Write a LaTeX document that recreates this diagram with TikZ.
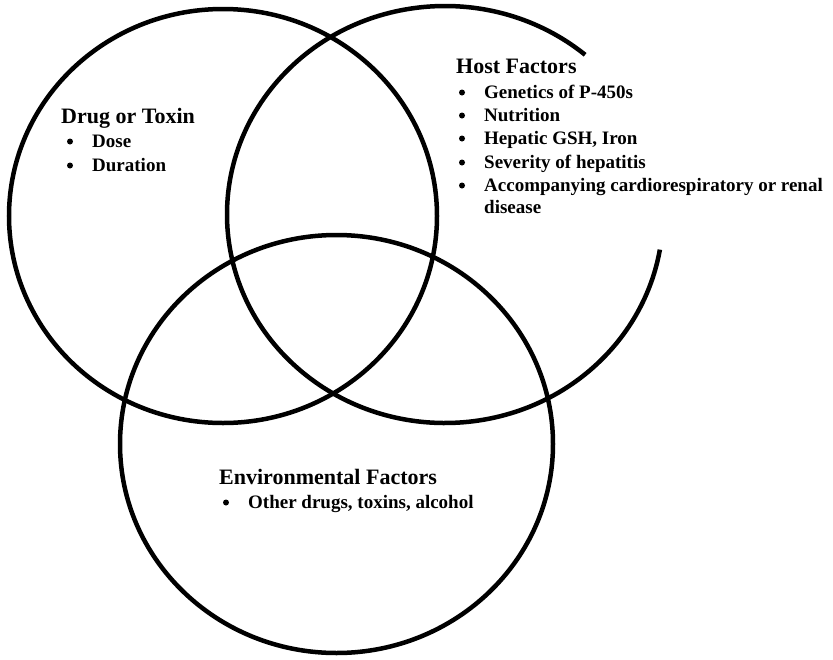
\documentclass[tikz,border=0pt]{standalone}
\usepackage{fontspec}
\setmainfont{Liberation Serif}
\tikzset{
  ring/.style={draw=black, line width=4.5pt},
  ttl/.style={inner sep=0pt, anchor=base west, font=\fontsize{22}{26}\selectfont\bfseries},
  itm/.style={inner sep=0pt, anchor=base west, font=\fontsize{19}{23}\selectfont\bfseries},
}
\newcommand{\dotat}[1]{\fill[black] ([shift={(-22pt,5.5pt)}]#1.base west) circle (3pt);}
\begin{document}
\begin{tikzpicture}[x=1pt, y=-1pt]
\useasboundingbox (0,0) rectangle (833,659);
% centres
\coordinate (lc) at (223,216);
\coordinate (hc) at (445,214.5);
\coordinate (ec) at (336.5,444);
% circles
\draw[ring] (lc) ellipse [x radius=214pt, y radius=207pt];
\draw[ring] ([shift={(50:218pt and 208.5pt)}]hc) arc [start angle=50, end angle=350.3, x radius=218pt, y radius=208.5pt];
\draw[ring] (ec) ellipse [x radius=216.5pt, y radius=209pt];
% Drug or Toxin
\node[ttl] (d0) at (61,123) {Drug or Toxin};
\node[itm] (d1) at (92,147) {Dose};
\node[itm] (d2) at (92,171) {Duration};
% Host Factors
\node[ttl] (h0) at (456,73) {Host Factors};
\node[itm] (h1) at (484,98) {Genetics of P-450s};
\node[itm] (h2) at (484,121) {Nutrition};
\node[itm] (h3) at (484,144) {Hepatic GSH, Iron};
\node[itm] (h4) at (484,168) {Severity of hepatitis};
\node[itm] (h5) at (484,191) {Accompanying cardiorespiratory or renal};
\node[itm] (h6) at (484,213) {disease};
% Environmental Factors
\node[ttl] (e0) at (219,484) {Environmental Factors};
\node[itm] (e1) at (248,508) {Other drugs, toxins, alcohol};
% bullets
\dotat{d1}\dotat{d2}
\dotat{h1}\dotat{h2}\dotat{h3}\dotat{h4}\dotat{h5}
\dotat{e1}
\end{tikzpicture}
\end{document}
